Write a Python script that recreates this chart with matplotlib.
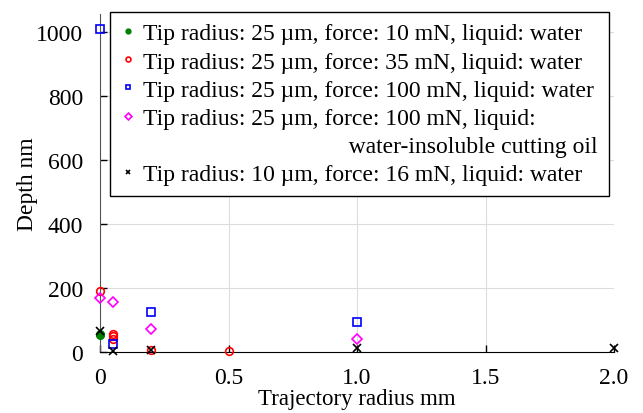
import matplotlib
matplotlib.use("Agg")
import matplotlib.pyplot as plt
from matplotlib.lines import Line2D

plt.rcParams['font.family'] = ['Liberation Serif', 'DejaVu Serif']

# tip 25 um, 10 mN, water
x_10mn = [0.0, 0.0]
y_10mn = [52, 57]
# tip 25 um, 35 mN, water
x_35mn = [0.0, 0.05, 0.05, 0.05, 0.2, 0.5]
y_35mn = [190, 57, 49, 41, 7, 3]
# tip 25 um, 100 mN, water
x_100mn = [0.0, 0.05, 0.2, 1.0]
y_100mn = [1010, 24, 124, 95]
# tip 25 um, 100 mN, cutting oil
x_oil = [0.0, 0.05, 0.2, 1.0]
y_oil = [169, 157, 73, 41]
# tip 10 um, 16 mN, water
x_16mn = [0.0, 0.05, 0.2, 1.0, 2.0]
y_16mn = [65, 4, 5, 14, 12]

xticks = [0, 0.5, 1.0, 1.5, 2.0]
xticklabels = ['0', '0.5', '1.0', '1.5', '2.0']
yticks = [0, 200, 400, 600, 800, 1000]

fs = 17

fig = plt.figure(figsize=(6.43, 4.14), dpi=100)
ax = fig.add_axes([0.1555, 0.1473, 0.7995, 0.8165])

ms = 5.5
ax.plot(x_10mn, y_10mn, 'o', color='green', markersize=ms, clip_on=False, zorder=3)
ax.plot(x_35mn, y_35mn, 'o', mfc='none', mec='red', mew=1.2, markersize=ms, clip_on=False, zorder=3)
ax.plot(x_100mn, y_100mn, 's', mfc='none', mec='blue', mew=1.2, markersize=ms, clip_on=False, zorder=3)
ax.plot(x_oil, y_oil, 'D', mfc='none', mec='magenta', mew=1.2, markersize=ms, clip_on=False, zorder=3)
ax.plot(x_16mn, y_16mn, 'x', color='black', mew=1.2, markersize=ms, clip_on=False, zorder=4)

ax.set_xlim(0, 2.0)
ax.set_ylim(0, 1056)
ax.set_xticks(xticks)
ax.set_xticklabels(xticklabels)
ax.set_yticks(yticks)
ax.tick_params(direction='in', length=5, labelsize=fs, width=1)
ax.tick_params(axis='x', pad=11)
ax.tick_params(axis='y', pad=12)
ax.grid(True, color='#dddddd', linewidth=0.8)
ax.set_axisbelow(True)
for s in ['top', 'right']:
    ax.spines[s].set_visible(False)
ax.spines['left'].set_color('#555555')

ax.set_xlabel('Trajectory radius mm', fontsize=16.5, labelpad=0)
ax.set_ylabel('Depth nm', fontsize=fs, labelpad=-1)

handles = [
    Line2D([], [], ls='none', marker='o', color='green', markersize=3.5),
    Line2D([], [], ls='none', marker='o', mfc='none', mec='red', mew=1.2, markersize=3.5),
    Line2D([], [], ls='none', marker='s', mfc='none', mec='blue', mew=1.2, markersize=3.5),
    Line2D([], [], ls='none', marker='D', mfc='none', mec='magenta', mew=1.2, markersize=3.5),
    Line2D([], [], ls='none', marker=None),
    Line2D([], [], ls='none', marker='x', color='black', mew=1.2, markersize=3.5),
]
labels = [
    'Tip radius: 25 µm, force: 10 mN, liquid: water',
    'Tip radius: 25 µm, force: 35 mN, liquid: water',
    'Tip radius: 25 µm, force: 100 mN, liquid: water',
    'Tip radius: 25 µm, force: 100 mN, liquid:',
    ' ' * 35 + 'water-insoluble cutting oil',
    'Tip radius: 10 µm, force: 16 mN, liquid: water',
]
leg = ax.legend(handles, labels, loc='upper left', bbox_to_anchor=(0.02, 1.005),
                fontsize=fs, frameon=True, fancybox=False, edgecolor='black',
                framealpha=1, handlelength=0.6, handletextpad=0.35,
                labelspacing=0.28, borderpad=0.45, borderaxespad=0)
leg.get_frame().set_linewidth(1.0)

fig.savefig('out.png', dpi=100)
